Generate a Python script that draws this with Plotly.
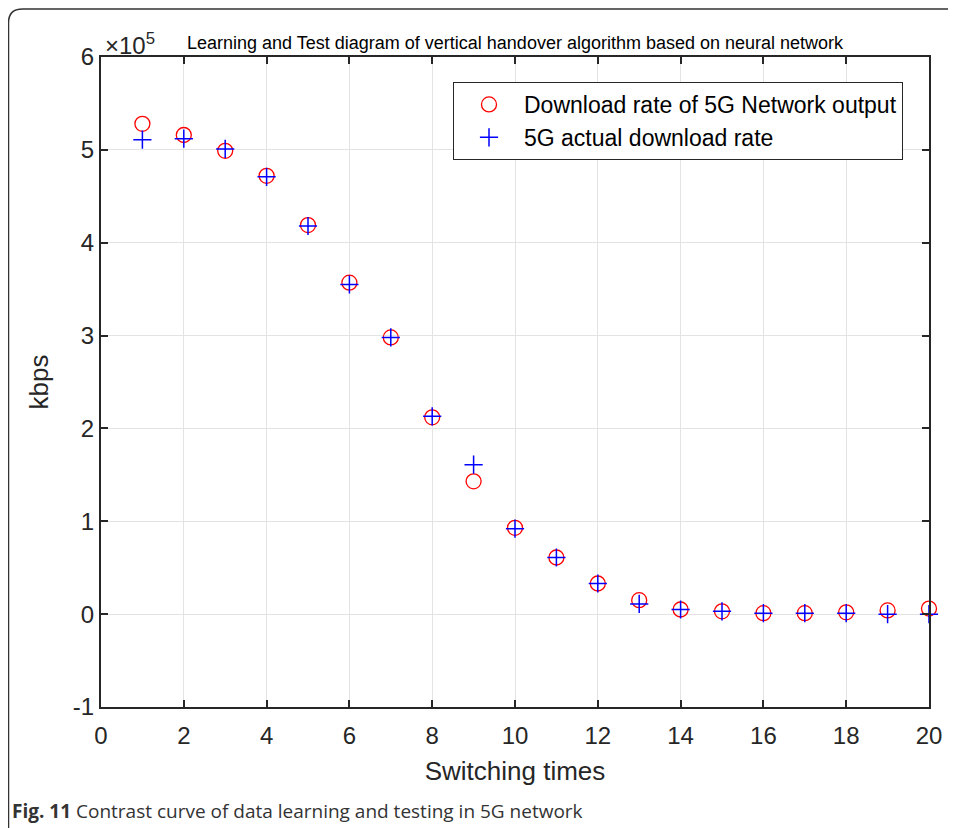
import plotly.graph_objects as go

switching_times = list(range(1, 21))
network_output = [528000, 516000, 499000, 472000, 419000, 357000, 298000, 212000, 143000, 93000,
                  61000, 33000, 15000, 5000, 3000, 1000, 1000, 2000, 4000, 6000]
actual_rate = [511000, 512000, 501000, 471000, 418000, 355000, 298000, 213000, 161000, 92000,
               61000, 33000, 11000, 5000, 3000, 1000, 1000, 1000, 0, 0]
scale = 1e5
y_ticks = [-1, 0, 1, 2, 3, 4, 5, 6]
x_ticks = list(range(0, 21, 2))

# page body has an 8px margin, so the figure is a bit smaller than the window
W, H = 948, 820
L, R, T, B = 93, 27, 49, 121
pw, ph = W - L - R, H - T - B

# screen coordinates -> paper coordinates
def px(x):
    return (x - 8 - L) / pw

def py(y):
    return (H - B - (y - 8)) / ph

FONT = "Liberation Sans, Arial"
fig = go.Figure()
fig.add_trace(go.Scatter(
    x=switching_times, y=[v / scale for v in network_output], mode="markers",
    name="Download rate of 5G Network output",
    marker=dict(symbol="circle-open", size=15, color="#ff0000", line=dict(width=1.3, color="#ff0000")),
    cliponaxis=False))
fig.add_trace(go.Scatter(
    x=switching_times, y=[v / scale for v in actual_rate], mode="markers",
    name="5G actual download rate",
    marker=dict(symbol="cross-thin", size=13, color="#0000ff", line=dict(width=1.5, color="#0000ff")),
    cliponaxis=False))

axis_common = dict(showgrid=True, gridcolor="#e3e3e3", gridwidth=1, zeroline=False,
                   showline=True, linecolor="#262626", linewidth=2, mirror="ticks",
                   ticks="inside", ticklen=7, tickwidth=2, tickcolor="#262626",
                   tickfont=dict(family=FONT, size=24, color="#262626"))

fig.update_xaxes(range=[0, 20], tickvals=x_ticks, ticklabelstandoff=6,
                 title=dict(text="Switching times", font=dict(family=FONT, size=26, color="#262626"), standoff=14),
                 **axis_common)
fig.update_yaxes(range=[-1, 6], tickvals=y_ticks, ticktext=[str(t) for t in y_ticks],
                 title=dict(text="kbps", font=dict(family=FONT, size=26, color="#262626"), standoff=17),
                 **axis_common)

fig.update_layout(
    width=W, height=H, margin=dict(l=L, r=R, t=T, b=B),
    plot_bgcolor="white", paper_bgcolor="white", showlegend=True,
    legend=dict(x=px(903), y=py(82), xanchor="right", yanchor="top",
                bgcolor="white", bordercolor="#262626", borderwidth=1,
                font=dict(family=FONT, size=23, color="#000000"),
                itemwidth=60, tracegroupgap=0),
)

fig.add_annotation(x=px(515), y=py(43), xref="paper", yref="paper", showarrow=False,
                   xanchor="center", yanchor="middle",
                   text="Learning and Test diagram of vertical handover algorithm based on neural network",
                   font=dict(family=FONT, size=18, color="#000000"))
fig.add_annotation(x=px(103), y=py(44), xref="paper", yref="paper", showarrow=False,
                   xanchor="left", yanchor="middle",
                   text="×10<sup>5</sup>",
                   font=dict(family=FONT, size=24, color="#262626"))
fig.add_annotation(x=px(10), y=py(811), xref="paper", yref="paper", showarrow=False,
                   xanchor="left", yanchor="middle",
                   text="<b>Fig. 11</b> Contrast curve of data learning and testing in 5G network",
                   font=dict(family="Open Sans, Noto Sans", size=19, color="#333333"))

# outer frame with rounded top-left corner
x0, y0, x1, y1 = 8.5, 9, 990, 900
r = 14
path = (f"M {px(x0)},{py(y1)} L {px(x0)},{py(y0 + r)} "
        f"Q {px(x0)},{py(y0)} {px(x0 + r)},{py(y0)} L {px(x1)},{py(y0)}")
fig.add_shape(type="path", path=path, xref="paper", yref="paper",
              line=dict(color="#333333", width=1.5))

fig.write_html("out.html")
